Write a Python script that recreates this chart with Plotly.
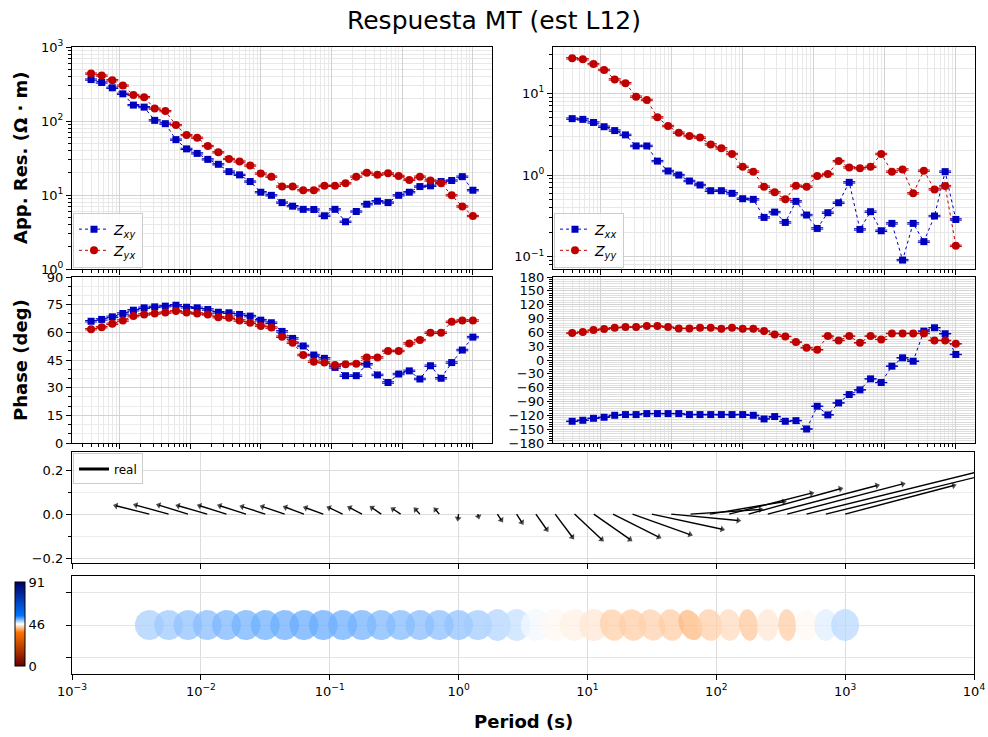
import numpy as np
import plotly.graph_objects as go

W, H = 988, 737
FONT = "DejaVu Sans"
BLUE = "#0000bf"
RED = "#bf0000"

# ---------------- data ----------------
periods = [0.00398, 0.00562, 0.00794, 0.0112, 0.0158, 0.0224, 0.0316, 0.0447, 0.0631,
           0.0891, 0.126, 0.178, 0.251, 0.355, 0.501, 0.708, 1.0, 1.41, 2.0, 2.82,
           3.98, 5.62, 7.94, 11.2, 15.8, 22.4, 31.6, 44.7, 63.1, 89.1, 126, 178,
           251, 355, 501, 708, 1000]

rho_xy = [363, 331, 281, 233, 164, 154, 102, 92, 56, 42, 36.5, 30.3, 26, 20.7, 18.7, 15.2,
          10.9, 9.9, 7.9, 7.06, 6.4, 6.37, 5.24, 6.4, 4.35, 5.98, 7.5, 8.25, 7.9, 9.9,
          10.9, 13, 13.3, 15.2, 15.7, 17.7, 11.6]
rho_yx = [437, 411, 356, 301, 225, 210, 147, 136, 88, 64.6, 59.4, 45.9, 37.7, 30.7, 28.3, 25,
          19.5, 17.7, 13, 13, 11.6, 11.6, 13.3, 13.3, 14.4, 17.7, 20, 18.8, 19.6, 18.1,
          16, 17.7, 15.7, 14.4, 9.9, 7, 5.2]
rho_xx = [4.9, 4.8, 4.4, 3.9, 3.5, 3.1, 2.27, 2.27, 1.48, 1.12, 1.0, 0.845, 0.755, 0.643,
          0.643, 0.597, 0.513, 0.504, 0.303, 0.352, 0.263, 0.476, 0.324, 0.222, 0.346,
          0.458, 0.813, 0.216, 0.356, 0.208, 0.256, 0.091, 0.256, 0.153, 0.315, 1.1, 0.286]
rho_yy = [26.8, 26.1, 22.8, 19.3, 14.8, 13.3, 9.1, 8.3, 5.08, 3.98, 3.3, 3.0, 2.87, 2.37,
          2.12, 1.81, 1.26, 1.1, 0.72, 0.614, 0.504, 0.74, 0.72, 0.973, 1.03, 1.48, 1.24,
          1.21, 1.26, 1.81, 1.1, 1.17, 0.597, 1.13, 0.667, 0.732, 0.136]

phi_xy = [66, 67, 68.4, 70.2, 72, 73.3, 73.8, 74.2, 74.7, 73.6, 73.3, 72.4, 70.9, 70.6, 69.7,
          68.8, 66.6, 65.2, 60.5, 56.7, 52.6, 47.7, 45.9, 41, 36.5, 36.5, 42.7, 36.9, 32.8,
          37.4, 39.1, 34.7, 41.9, 35.1, 43.6, 50.4, 57.4]
phi_yx = [61.7, 62.8, 64.6, 66.4, 68.8, 69.7, 70.2, 70.7, 71.5, 70.7, 70.2, 69.7, 68.2, 67.9,
          66.4, 65.2, 63.5, 62.6, 57.6, 54.4, 47.7, 44.1, 43.6, 42.3, 42.7, 43, 46.4, 46.4,
          49.9, 49.9, 54, 55.8, 59.8, 59.8, 65.7, 66.4, 66.4]
phi_xx = [-132.9, -130.7, -126.4, -124.2, -119.9, -118.4, -118.4, -116.2, -116.2, -116.2,
          -116.2, -118.4, -118.4, -118.4, -118.4, -118.4, -118.4, -119.9, -127.8, -122.7,
          -132.9, -131.5, -149.6, -100.3, -119.1, -93.1, -75, -64.8, -40.9, -48.9, -13.4,
          4.7, -2.6, 62.7, 69.9, 56.9, 12]
phi_yy = [58.3, 60.5, 64.8, 67, 69.9, 71.3, 71.3, 73.5, 73.5, 71.3, 68.5, 68.5, 69.9, 69.9,
          67.7, 69.9, 67.7, 67.7, 62.7, 55.4, 51.1, 38.8, 26.4, 22.1, 51.8, 42.4, 51.8, 37.3,
          51.8, 44.6, 57.6, 57.6, 57.6, 57.6, 42.4, 42.4, 35.1]

rho_rel_err = 0.02      # error bars are tiny (caps only)
phase_err = 0.4

# real tipper: x component in decades of period, y component
tip_re_x = [-0.259, -0.254, -0.226, -0.225, -0.208, -0.203, -0.179, -0.172, -0.143, -0.136,
            -0.105, -0.095, -0.072, -0.059, -0.033, -0.029, -0.005, 0.005, 0.031, 0.041,
            0.084, 0.133, 0.211, 0.281, 0.355, 0.446, 0.546, 0.52, 0.543, 0.574, 0.638,
            0.713, 0.848, 0.897, 1.385, 1.18, 0.842]
tip_re_y = [0.038, 0.041, 0.041, 0.038, 0.038, 0.038, 0.034, 0.034, 0.031, 0.029, 0.029,
            0.029, 0.029, 0.023, 0.021, 0.021, -0.02, -0.011, -0.027, -0.038, -0.070, -0.104,
            -0.115, -0.115, -0.104, -0.093, -0.069, -0.029, 0.021, 0.056, 0.095, 0.115, 0.13,
            0.137, 0.2, 0.17, 0.13]

# phase tensor ellipses: relative axes, azimuth (deg) and colour value
pt_major = [0.94] * 18 + [1.0] * 19
pt_minor = [0.906] * 18 + [0.844, 0.875, 0.9375, 0.9375, 0.9375, 0.9375, 0.8125, 0.844,
                           0.8125, 0.781, 0.6875, 0.781, 0.719, 0.594, 0.6875, 0.5625,
                           0.6875, 0.719, 0.875]
pt_azimuth = [0] * 24 + [15, 15, 20, 10, 25, 10, 5, 8, 0, 3, 0, 0, 0]
pt_color = [48.5, 48.9, 49.35, 49.7, 50.1, 50.4, 50.5, 50.65, 50.75, 50.8, 50.6, 50.4, 50.05,
            49.85, 49.7, 49.55, 49.35, 48.8, 48.1, 47.5, 45.9, 45.1, 44.6, 44.0, 42.5, 42.35,
            42.6, 42.3, 41.0, 42.5, 43.25, 42.1, 44.0, 42.35, 45.1, 46.55, 47.95]
cb_min, cb_max = 0, 91

# ---------------- layout geometry (pixels: left, top, right, bottom) ----------------
box_rl = (72, 47, 492, 269)
box_rr = (553, 47, 975, 269)
box_pl = (72, 277, 492, 443)
box_pr = (553, 277, 975, 443)
box_tp = (72, 452, 974, 563)
box_pt = (72, 576, 974, 674)


def xdom(b):
    return [b[0] / W, b[2] / W]


def ydom(b):
    return [1 - b[3] / H, 1 - b[1] / H]


colorscale = [[0.0, "rgb(102,0,0)"], [0.4, "rgb(255,115,0)"], [0.5, "rgb(255,255,255)"],
              [0.6, "rgb(0,115,255)"], [1.0, "rgb(0,0,102)"]]


def cmap(v, alpha):
    t = (v - cb_min) / (cb_max - cb_min)
    stops = [s[0] for s in colorscale]
    cols = [[int(c) for c in s[1][4:-1].split(",")] for s in colorscale]
    rgb = [np.interp(t, stops, [c[i] for c in cols]) for i in range(3)]
    return "rgba(%d,%d,%d,%.2f)" % (rgb[0], rgb[1], rgb[2], alpha)


fig = go.Figure()
lp = np.log10(periods)


def zs(rho, err, color, symbol, size, name, xa, ya, legend, show=True):
    fig.add_trace(go.Scatter(
        x=periods, y=rho, mode="lines+markers", name=name, legend=legend, showlegend=show,
        xaxis=xa, yaxis=ya,
        line=dict(color=color, width=1, dash="dot"),
        marker=dict(color=color, symbol=symbol, size=size),
        error_y=dict(type="data", array=err, color=color, thickness=1, width=6),
        hoverinfo="skip"))


zxy = "<i>Z</i><sub><i>xy</i></sub>"
zyx = "<i>Z</i><sub><i>yx</i></sub>"
zxx = "<i>Z</i><sub><i>xx</i></sub>"
zyy = "<i>Z</i><sub><i>yy</i></sub>"

rerr = lambda r: [v * rho_rel_err for v in r]
perr = [phase_err] * len(periods)

zs(rho_xy, rerr(rho_xy), BLUE, "square", 7, zxy, "x", "y", "legend")
zs(rho_yx, rerr(rho_yx), RED, "circle", 8, zyx, "x", "y", "legend")
zs(rho_xx, rerr(rho_xx), BLUE, "square", 7, zxx, "x2", "y2", "legend2")
zs(rho_yy, rerr(rho_yy), RED, "circle", 8, zyy, "x2", "y2", "legend2")
zs(phi_xy, perr, BLUE, "square", 7, zxy, "x3", "y3", "legend", False)
zs(phi_yx, perr, RED, "circle", 8, zyx, "x3", "y3", "legend", False)
zs(phi_xx, perr, BLUE, "square", 7, zxx, "x4", "y4", "legend2", False)
zs(phi_yy, perr, RED, "circle", 8, zyy, "x4", "y4", "legend2", False)

# ---------------- tipper arrows ----------------
for i, p in enumerate(periods):
    fig.add_trace(go.Scatter(
        x=[p, 10 ** (lp[i] + tip_re_x[i])], y=[0, tip_re_y[i]],
        mode="lines+markers", xaxis="x5", yaxis="y5", showlegend=False,
        line=dict(color="black", width=1.4),
        marker=dict(symbol="triangle-up", size=[0, 6], angleref="previous", color="black",
                    line=dict(width=0)),
        hoverinfo="skip"))
fig.add_trace(go.Scatter(x=[None], y=[None], mode="lines", name="real", legend="legend3",
                         xaxis="x5", yaxis="y5", line=dict(color="black", width=3)))

# ---------------- phase tensor ellipses ----------------
pt_w = box_pt[2] - box_pt[0]
pt_h = box_pt[3] - box_pt[1]
pt_xrange = [-3, 4]
pt_yrange = [-1.5, 1.5]
px_per_dec = pt_w / (pt_xrange[1] - pt_xrange[0])
px_per_unit = pt_h / (pt_yrange[1] - pt_yrange[0])
ell_size = 32.0  # pixels for relative size 1
t = np.linspace(0, 2 * np.pi, 73)
for i, p in enumerate(periods):
    a = pt_minor[i] * ell_size / 2
    b = pt_major[i] * ell_size / 2
    th = np.radians(pt_azimuth[i])
    dx = a * np.cos(t) * np.cos(th) - b * np.sin(t) * np.sin(th)
    dy = a * np.cos(t) * np.sin(th) + b * np.sin(t) * np.cos(th)
    fig.add_trace(go.Scatter(
        x=10 ** (lp[i] + dx / px_per_dec), y=dy / px_per_unit, mode="lines",
        fill="toself", fillcolor=cmap(pt_color[i], 0.75), line=dict(width=0),
        xaxis="x6", yaxis="y6", showlegend=False, hoverinfo="skip"))

# colour bar
fig.add_trace(go.Scatter(
    x=[1e-6, 1e-6], y=[0, 0], mode="markers", xaxis="x6", yaxis="y6", showlegend=False,
    hoverinfo="skip",
    marker=dict(color=[cb_min, cb_max], cmin=cb_min, cmax=cb_max, colorscale=colorscale,
                showscale=True,
                colorbar=dict(x=15 / W, xanchor="left", y=1 - 624 / H, yanchor="middle",
                              len=84 / H, lenmode="fraction", thickness=10,
                              thicknessmode="pixels", outlinewidth=1, outlinecolor="black",
                              tickvals=[0, 45.5, 91], ticktext=["0", "46", "91"],
                              ticks="inside", ticklen=3, tickcolor="white",
                              tickfont=dict(family=FONT, size=13, color="black"), xpad=0,
                              ypad=0))))

# ---------------- axes ----------------
decades = [10.0 ** e for e in range(-3, 5)]
minor_x = [m * 10.0 ** e for e in range(-3, 4) for m in range(2, 10)]


def sup(e):
    return "10<sup>%s%d</sup>" % ("\u2212" if e < 0 else "", abs(e))


def base(**kw):
    d = dict(showline=True, linecolor="black", linewidth=1.2, mirror=True,
             ticks="outside", ticklen=5, tickwidth=1, tickcolor="black",
             showgrid=True, gridcolor="#d2d2d2", gridwidth=1, zeroline=False,
             tickfont=dict(family=FONT, size=13, color="black"))
    d.update(kw)
    return d


def xlog_top(box, anchor):
    return base(domain=xdom(box), anchor=anchor, type="log", range=[-2.67, 3.27],
                tickmode="array", tickvals=decades, showticklabels=False,
                minor=dict(tickmode="array", tickvals=minor_x, ticks="outside", ticklen=3,
                           tickcolor="black", showgrid=True, gridcolor="#e8e8e8"))


def ylog(box, anchor, rng, e0, e1):
    return base(domain=ydom(box), anchor=anchor, type="log", range=rng,
                tickmode="array", tickvals=[10.0 ** e for e in range(e0, e1 + 1)],
                ticktext=[sup(e) for e in range(e0, e1 + 1)],
                minor=dict(tickmode="array",
                           tickvals=[m * 10.0 ** e for e in range(e0 - 1, e1 + 1)
                                     for m in range(2, 10)],
                           ticks="outside", ticklen=3, tickcolor="black", showgrid=True,
                           gridcolor="#e8e8e8"))


fig.update_layout(
    width=W, height=H, margin=dict(l=0, r=0, t=0, b=0, autoexpand=False),
    paper_bgcolor="white", plot_bgcolor="white",
    font=dict(family=FONT, size=13, color="black"),
    title=dict(text="Respuesta MT (est L12)", x=0.5, xanchor="center", y=1 - 20 / H,
               yanchor="middle", font=dict(family=FONT, size=25, color="black")),
    xaxis=xlog_top(box_rl, "y"),
    yaxis=ylog(box_rl, "x", [0, 3], 0, 3),
    xaxis2=xlog_top(box_rr, "y2"),
    yaxis2=ylog(box_rr, "x2", [-1.15, 1.567], -1, 1),
    xaxis3=xlog_top(box_pl, "y3"),
    yaxis3=base(domain=ydom(box_pl), anchor="x3", range=[0, 90], tickmode="array",
                tickvals=list(range(0, 91, 15)),
                minor=dict(tickmode="linear", tick0=0, dtick=5, ticks="outside", ticklen=3,
                           tickcolor="black", showgrid=True, gridcolor="#ececec")),
    xaxis4=xlog_top(box_pr, "y4"),
    yaxis4=base(domain=ydom(box_pr), anchor="x4", range=[-180, 180], tickmode="array",
                tickvals=list(range(-180, 181, 30)),
                minor=dict(tickmode="linear", tick0=0, dtick=5, ticks="outside", ticklen=3,
                           tickcolor="black", showgrid=True, gridcolor="#dedede")),
    xaxis5=base(domain=xdom(box_tp), anchor="y5", type="log", range=[-3, 4],
                tickmode="array", tickvals=decades, showticklabels=False,
                gridcolor="#dcdcdc"),
    yaxis5=base(domain=ydom(box_tp), anchor="x5", range=[-0.222, 0.282], tickmode="array",
                tickvals=[-0.2, 0.0, 0.2], ticktext=["\u22120.2", "0.0", "0.2"],
                gridcolor="#dcdcdc",
                minor=dict(tickmode="array", tickvals=[-0.1, 0.1], ticks="outside",
                           ticklen=3, tickcolor="black", showgrid=True,
                           gridcolor="#ededed")),
    xaxis6=base(domain=xdom(box_pt), anchor="y6", type="log", range=pt_xrange,
                tickmode="array", tickvals=decades,
                ticktext=[sup(e) for e in range(-3, 5)], gridcolor="#dcdcdc"),
    yaxis6=base(domain=ydom(box_pt), anchor="x6", range=pt_yrange, tickmode="array",
                tickvals=[-1, 0, 1], showticklabels=False, gridcolor="#e4e4e4"),
)

legend_style = dict(bgcolor="rgba(255,255,255,0.85)", bordercolor="#cccccc", borderwidth=1,
                    font=dict(family=FONT, size=14, color="black"), itemwidth=30,
                    tracegroupgap=0, xanchor="left", yanchor="bottom")
fig.update_layout(
    legend=dict(x=box_rl[0] / W + 0.001, y=1 - box_rl[3] / H + 0.002, **legend_style),
    legend2=dict(x=box_rr[0] / W + 0.001, y=1 - box_rr[3] / H + 0.002, **legend_style),
    legend3=dict(x=box_tp[0] / W + 0.001, y=1 - box_tp[1] / H - 0.002, xanchor="left",
                 yanchor="top", bgcolor="rgba(255,255,255,0.85)", bordercolor="#cccccc",
                 borderwidth=1, font=dict(family=FONT, size=12, color="black"),
                 itemwidth=30),
)

# axis titles
bold = dict(family=FONT, size=18, color="black")
fig.add_annotation(text="<b>App. Res. (\u03a9 \u00b7 m)</b>", xref="paper", yref="paper",
                   x=20 / W, y=1 - (box_rl[1] + box_rl[3]) / 2 / H, textangle=-90,
                   showarrow=False, font=bold, xanchor="center", yanchor="middle")
fig.add_annotation(text="<b>Phase (deg)</b>", xref="paper", yref="paper",
                   x=20 / W, y=1 - (box_pl[1] + box_pl[3]) / 2 / H, textangle=-90,
                   showarrow=False, font=bold, xanchor="center", yanchor="middle")
fig.add_annotation(text="<b>Period (s)</b>", xref="paper", yref="paper",
                   x=(box_pt[0] + box_pt[2]) / 2 / W, y=1 - 721 / H, showarrow=False,
                   font=bold, xanchor="center", yanchor="middle")

fig.write_html("out.html", config={"displayModeBar": False},
               post_script="document.body.style.margin='0px';"
                           "document.body.style.overflow='hidden';")
